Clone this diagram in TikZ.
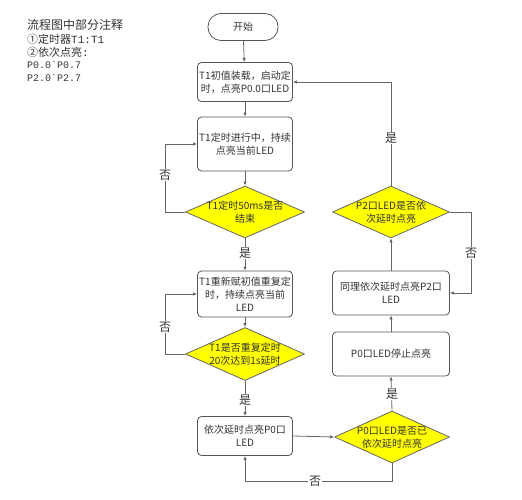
\documentclass[tikz,border=0pt]{standalone}
\usepackage{fontspec}
\setmainfont{Noto Sans CJK SC}
\newfontfamily\monof{Liberation Mono}
\usetikzlibrary{arrows.meta,shapes.geometric}
\definecolor{ln}{HTML}{666666}
\definecolor{bd}{HTML}{555555}
\definecolor{tx}{HTML}{333333}
\definecolor{yel}{HTML}{FFFF00}
\tikzset{
  boxn/.style={draw=bd,line width=0.8pt,rounded corners=4pt,fill=white,align=center,
    font=\fontsize{10}{13}\selectfont,text=tx,inner sep=0pt},
  dia/.style={draw=ln,line width=0.8pt,fill=yel,diamond,inner sep=0pt},
  dtext/.style={align=center,font=\fontsize{10}{13}\selectfont,text=tx},
  arr/.style={draw=ln,line width=0.8pt,-{Latex[length=4pt,width=3.5pt]}},
  lab/.style={fill=white,inner sep=1pt,font=\fontsize{12}{12}\selectfont,text=tx},
  note/.style={anchor=west,inner sep=0pt,text=tx}
}
\begin{document}
\begin{tikzpicture}[x=1pt,y=-1pt]
\useasboundingbox (0,0) rectangle (522,500);
% annotation
\node[note,font=\fontsize{12}{12}\selectfont] (n0) at (27,25) {流程图中部分注释};
\node[note,font=\fontsize{11}{11}\selectfont] (n1) at (27,39) {①定时器{\monof T1:T1}};
\node[note,font=\fontsize{11}{11}\selectfont] (n2) at (27,52) {②依次点亮{\monof :}};
\node[note,font=\fontsize{10}{10}\selectfont] (n3) at (27,65) {\monof P0.0\symbol{"60}P0.7};
\node[note,font=\fontsize{10}{10}\selectfont] (n4) at (27,78) {\monof P2.0\symbol{"60}P2.7};
% left column
\node[boxn,rounded corners=13pt,minimum width=70pt,minimum height=27pt] (s) at (243,27) {开始};
\node[boxn,minimum width=95pt,minimum height=39pt] (b1) at (245,82) {T1初值装载，启动定\\时，点亮P0.0口LED};
\node[boxn,minimum width=95pt,minimum height=54pt] (b2) at (245,144) {T1定时进行中，持续\\点亮当前LED};
\node[dia,minimum width=119pt,minimum height=52pt] (d1) at (245,212) {};
\node[dtext] (t1) at (d1.center) {T1定时50ms是否\\结束};
\node[boxn,minimum width=95pt,minimum height=46pt] (b3) at (245,294) {T1重新赋初值重复定\\时，持续点亮当前\\LED};
\node[dia,minimum width=119pt,minimum height=53pt] (d2) at (245,354) {};
\node[dtext] (t2) at (d2.center) {T1是否重复定时\\20次达到1s延时};
\node[boxn,minimum width=95pt,minimum height=39pt] (b4) at (245,436) {依次延时点亮P0口\\LED};
% right column
\node[dia,minimum width=117pt,minimum height=52pt] (d3) at (391,212) {};
\node[dtext] (t3) at (d3.center) {P2口LED是否依\\次延时点亮};
\node[boxn,minimum width=117pt,minimum height=44pt] (b5) at (391,293) {同理依次延时点亮P2口\\LED};
\node[boxn,minimum width=117pt,minimum height=44pt] (b6) at (391,354) {P0口LED停止点亮};
\node[dia,minimum width=115pt,minimum height=52pt] (d4) at (392,437) {};
\node[dtext] (t4) at (d4.center) {P0口LED是否已\\依次延时点亮};
\coordinate (lx) at (165,0);
\coordinate (rx) at (471,0);
\coordinate (by) at (0,481);
% connectors
\draw[arr] (s) -- (b1);
\draw[arr] (b1) -- (b2);
\draw[arr] (b2) -- (d1.north);
\draw[arr] (d1.south) -- (b3);
\node[lab] at (245,253) {是};
\draw[arr] (d1.west) -- (d1.west -| lx) |- (b2.west);
\node[lab] at (165,175) {否};
\draw[arr] (b3) -- (d2.north);
\draw[arr] (d2.west) -- (d2.west -| lx) |- (b3.west);
\node[lab] at (165,327) {否};
\draw[arr] (d2.south) -- (b4);
\node[lab] at (245,400) {是};
\draw[arr] (b4.east) -- (d4.west);
\draw[arr] (d4.south) -- (d4.south |- by) -| (b4.south);
\node[lab] at (315,481) {否};
\draw[arr] (d4.north) -- (b6.south);
\node[lab] at (392,394) {是};
\draw[arr] (b6) -- (b5);
\draw[arr] (b5.north) -- (d3.south);
\draw[arr] (d3.north) |- (b1.east);
\node[lab] at (391,138) {是};
\draw[arr] (d3.east) -- (d3.east -| rx) |- (b5.east);
\node[lab] at (471,253) {否};
\end{tikzpicture}
\end{document}
